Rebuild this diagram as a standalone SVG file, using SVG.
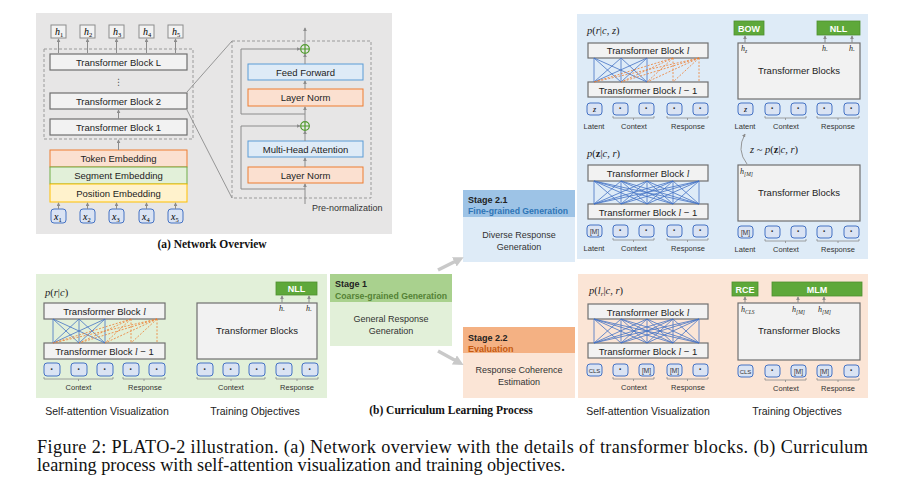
<svg xmlns="http://www.w3.org/2000/svg" width="899" height="485" viewBox="0 0 899 485">
<defs>
<style>
.sans{font-family:"Liberation Sans","DejaVu Sans",sans-serif;}
.serif{font-family:"Liberation Serif","DejaVu Serif",serif;}
.blk{fill:#f2f2f2;stroke:#6f6f6f;stroke-width:1.2;}
.tb{font-family:"Liberation Sans",sans-serif;font-size:9.5px;fill:#222;text-anchor:middle;}
.tok{fill:#dae3f3;stroke:#4472c4;stroke-width:1;}
.tokt{font-family:"Liberation Sans",sans-serif;font-size:10px;font-weight:bold;fill:#333;text-anchor:middle;}
.lab{font-family:"Liberation Sans",sans-serif;font-size:7.5px;fill:#333;text-anchor:middle;}
.brace{fill:none;stroke:#8c8c8c;stroke-width:0.8;}
.ar{stroke:#8c8c8c;stroke-width:1;fill:none;marker-end:url(#ah);}
.bl{stroke:#4472c4;stroke-width:0.8;}
.or{stroke:#ed7d31;stroke-width:0.8;stroke-dasharray:2,1.5;}
.gbox{fill:#5ea83a;stroke:#4f8f30;stroke-width:0.8;}
.gt{font-family:"Liberation Sans",sans-serif;font-size:9px;font-weight:bold;fill:#fff;text-anchor:middle;}
.mi{font-family:"Liberation Serif",serif;font-style:italic;}
.cap{font-family:"Liberation Serif","Times New Roman",serif;font-size:18.2px;fill:#111;}
.hb{fill:#f2f2f2;stroke:#8c8c8c;stroke-width:1;}
.sub{font-family:"Liberation Sans",sans-serif;font-size:10.5px;fill:#222;text-anchor:middle;}
</style>
<marker id="ah" viewBox="0 0 6 6" refX="5" refY="3" markerWidth="4" markerHeight="4" orient="auto"><path d="M0,0 L6,3 L0,6 z" fill="#8c8c8c"/></marker>
<marker id="ahg" viewBox="0 0 6 6" refX="3" refY="3" markerWidth="3" markerHeight="3" orient="auto"><path d="M0,0 L6,3 L0,6 z" fill="#c9c9c9"/></marker>
</defs>
<rect width="899" height="485" fill="#ffffff"/>

<!-- Panels -->
<rect id="panel-a" x="36" y="13" width="356" height="221" fill="#e7e6e6"/>
<rect id="panel-blue" x="577" y="14" width="291" height="245" fill="#deebf7"/>
<rect id="panel-green" x="36" y="274" width="291" height="124" fill="#e2f0d9"/>
<rect id="panel-orange" x="578" y="274" width="290" height="124" fill="#fbe5d6"/>

<!-- (a) Network overview -->
<g id="outputs">
<rect class="hb" x="51" y="25" width="15" height="13"/><rect class="hb" x="80" y="25" width="15" height="13"/><rect class="hb" x="109" y="25" width="15" height="13"/><rect class="hb" x="139" y="25" width="15" height="13"/><rect class="hb" x="168" y="25" width="15" height="13"/>
<text class="mi" font-size="10" x="55" y="35">h<tspan font-size="6.5" dy="2" font-style="normal">1</tspan></text>
<text class="mi" font-size="10" x="84" y="35">h<tspan font-size="6.5" dy="2" font-style="normal">2</tspan></text>
<text class="mi" font-size="10" x="113" y="35">h<tspan font-size="6.5" dy="2" font-style="normal">3</tspan></text>
<text class="mi" font-size="10" x="143" y="35">h<tspan font-size="6.5" dy="2" font-style="normal">4</tspan></text>
<text class="mi" font-size="10" x="172" y="35">h<tspan font-size="6.5" dy="2" font-style="normal">5</tspan></text>
</g>
<g id="stack">
<rect x="44" y="49" width="149" height="90" fill="none" stroke="#9a9a9a" stroke-width="1" stroke-dasharray="3,2"/>
<rect class="blk" x="50" y="54" width="137" height="16"/><text class="tb" x="118.5" y="65.5">Transformer Block L</text>
<text class="sans" font-size="9" fill="#555" text-anchor="middle" x="118.5" y="85">⋮</text>
<rect class="blk" x="50" y="93" width="137" height="16"/><text class="tb" x="118.5" y="104.5">Transformer Block 2</text>
<rect class="blk" x="50" y="119" width="137" height="16"/><text class="tb" x="118.5" y="130.5">Transformer Block 1</text>
</g>
<g id="embeddings">
<rect x="50" y="150" width="137" height="17" fill="#fbe0d0" stroke="#ed7d31" stroke-width="1"/><text class="tb" x="118.5" y="162">Token Embedding</text>
<rect x="50" y="167" width="137" height="17" fill="#e2f0d9" stroke="#70ad47" stroke-width="1"/><text class="tb" x="118.5" y="179">Segment Embedding</text>
<rect x="50" y="184" width="137" height="18" fill="#fff2cc" stroke="#ffc000" stroke-width="1"/><text class="tb" x="118.5" y="196.5">Position Embedding</text>
</g>
<g id="inputs">
<rect class="tok" x="51" y="209" width="15" height="14" rx="3"/><rect class="tok" x="80" y="209" width="15" height="14" rx="3"/><rect class="tok" x="109" y="209" width="15" height="14" rx="3"/><rect class="tok" x="139" y="209" width="15" height="14" rx="3"/><rect class="tok" x="168" y="209" width="15" height="14" rx="3"/>
<text class="mi" font-size="10" x="54" y="219.5">x<tspan font-size="6.5" dy="2" font-style="normal">1</tspan></text>
<text class="mi" font-size="10" x="83" y="219.5">x<tspan font-size="6.5" dy="2" font-style="normal">2</tspan></text>
<text class="mi" font-size="10" x="112" y="219.5">x<tspan font-size="6.5" dy="2" font-style="normal">3</tspan></text>
<text class="mi" font-size="10" x="142" y="219.5">x<tspan font-size="6.5" dy="2" font-style="normal">4</tspan></text>
<text class="mi" font-size="10" x="171" y="219.5">x<tspan font-size="6.5" dy="2" font-style="normal">5</tspan></text>
</g>
<g id="block-detail">
<rect x="232" y="41" width="139" height="157" fill="none" stroke="#9a9a9a" stroke-width="1" stroke-dasharray="3,2"/>
<rect x="248" y="64" width="115" height="16" fill="#deebf7" stroke="#5b9bd5" stroke-width="1"/><text class="tb" x="305.5" y="75.5">Feed Forward</text>
<rect x="248" y="89" width="115" height="17" fill="#fbe0d0" stroke="#ed7d31" stroke-width="1"/><text class="tb" x="305.5" y="101">Layer Norm</text>
<rect x="248" y="141" width="115" height="16" fill="#deebf7" stroke="#5b9bd5" stroke-width="1"/><text class="tb" x="305.5" y="152.5">Multi-Head Attention</text>
<rect x="248" y="167" width="115" height="16" fill="#fbe0d0" stroke="#ed7d31" stroke-width="1"/><text class="tb" x="305.5" y="178.5">Layer Norm</text>
<circle cx="305" cy="49" r="4.3" fill="none" stroke="#4e9a2a" stroke-width="1.2"/><path d="M300.7,49 H309.3 M305,44.7 V53.3" stroke="#4e9a2a" stroke-width="1.2"/>
<circle cx="305" cy="126" r="4.3" fill="none" stroke="#4e9a2a" stroke-width="1.2"/><path d="M300.7,126 H309.3 M305,121.7 V130.3" stroke="#4e9a2a" stroke-width="1.2"/>
<text class="sans" font-size="9" fill="#333" x="312" y="211">Pre-normalization</text>
</g>
<g id="connectors-a">
<line class="ar" x1="58.5" y1="53" x2="58.5" y2="39"/><line class="ar" x1="87.5" y1="53" x2="87.5" y2="39"/><line class="ar" x1="116.5" y1="53" x2="116.5" y2="39"/><line class="ar" x1="146.5" y1="53" x2="146.5" y2="39"/><line class="ar" x1="175.5" y1="53" x2="175.5" y2="39"/>
<line class="ar" x1="118.5" y1="119" x2="118.5" y2="110"/>
<line class="ar" x1="118.5" y1="150" x2="118.5" y2="140"/>
<line class="ar" x1="58.5" y1="209" x2="58.5" y2="203"/><line class="ar" x1="87.5" y1="209" x2="87.5" y2="203"/><line class="ar" x1="116.5" y1="209" x2="116.5" y2="203"/><line class="ar" x1="146.5" y1="209" x2="146.5" y2="203"/><line class="ar" x1="175.5" y1="209" x2="175.5" y2="203"/>
<line x1="187" y1="92" x2="232" y2="41" stroke="#8c8c8c" stroke-width="0.9"/>
<line x1="187" y1="110" x2="232" y2="198" stroke="#8c8c8c" stroke-width="0.9"/>
<line class="ar" x1="305" y1="204" x2="305" y2="184"/>
<line class="ar" x1="305" y1="167" x2="305" y2="158"/>
<line class="ar" x1="305" y1="141" x2="305" y2="131"/>
<line class="ar" x1="305" y1="121.5" x2="305" y2="107"/>
<line class="ar" x1="305" y1="89" x2="305" y2="81"/>
<line class="ar" x1="305" y1="64" x2="305" y2="54"/>
<line class="ar" x1="305" y1="44.5" x2="305" y2="28"/>
<path class="ar" d="M305,189 H241 V126 H300"/>
<path class="ar" d="M305,114 H241 V49 H300"/>
</g>
<text class="serif" font-size="11.5" font-weight="bold" text-anchor="middle" x="212" y="248" fill="#111">(a) Network Overview</text>

<!-- Stage boxes -->
<g id="stage21">
<rect x="463" y="190" width="112" height="27" fill="#9dc3e6"/>
<rect x="463" y="217" width="112" height="45" fill="#deebf7"/>
<text class="sans" font-size="9" font-weight="bold" fill="#222" x="468" y="203">Stage 2.1</text>
<text class="sans" font-size="9" font-weight="bold" fill="#2e75b6" x="468" y="214" textLength="100" lengthAdjust="spacingAndGlyphs">Fine-grained Generation</text>
<text class="sans" font-size="9" fill="#333" text-anchor="middle" x="519" y="238">Diverse Response</text>
<text class="sans" font-size="9" fill="#333" text-anchor="middle" x="519" y="250">Generation</text>
</g>
<g id="stage1">
<rect x="330" y="274" width="122" height="28" fill="#a9d18e"/>
<rect x="330" y="302" width="122" height="44" fill="#e2f0d9"/>
<text class="sans" font-size="9" font-weight="bold" fill="#222" x="335" y="287">Stage 1</text>
<text class="sans" font-size="9" font-weight="bold" fill="#548235" x="335" y="299" textLength="112" lengthAdjust="spacingAndGlyphs">Coarse-grained Generation</text>
<text class="sans" font-size="9" fill="#333" text-anchor="middle" x="391" y="322">General Response</text>
<text class="sans" font-size="9" fill="#333" text-anchor="middle" x="391" y="334">Generation</text>
</g>
<g id="stage22">
<rect x="463" y="327" width="112" height="26" fill="#f4b183"/>
<rect x="463" y="353" width="112" height="45" fill="#fbe5d6"/>
<text class="sans" font-size="9" font-weight="bold" fill="#222" x="468" y="341">Stage 2.2</text>
<text class="sans" font-size="9" font-weight="bold" fill="#c55a11" x="468" y="352">Evaluation</text>
<text class="sans" font-size="9" fill="#333" text-anchor="middle" x="519" y="373">Response Coherence</text>
<text class="sans" font-size="9" fill="#333" text-anchor="middle" x="519" y="385">Estimation</text>
</g>
<g id="connectors-stage">
<line x1="438" y1="270" x2="459" y2="259.5" stroke="#c9c9c9" stroke-width="3.5" marker-end="url(#ahg)"/>
<line x1="438" y1="351" x2="459" y2="362.5" stroke="#c9c9c9" stroke-width="3.5" marker-end="url(#ahg)"/>
</g>
<text class="serif" font-size="11.5" font-weight="bold" text-anchor="middle" x="451" y="414" fill="#111">(b) Curriculum Learning Process</text>

<!-- Top right: p(r|c,z) -->
<g id="tr-attn1">
<text class="serif" font-size="10.5" fill="#222" x="587" y="34"><tspan font-style="italic">p</tspan>(<tspan font-style="italic">r</tspan>|<tspan font-style="italic">c</tspan>, <tspan font-style="italic">z</tspan>)</text>
<rect class="blk" x="588" y="43" width="120" height="15"/><text class="tb" x="648" y="54">Transformer Block <tspan class="mi">l</tspan></text>
<rect class="blk" x="588" y="82" width="120" height="15"/><text class="tb" x="648" y="93.5">Transformer Block <tspan class="mi">l</tspan> − 1</text>
<g class="bl">
<line x1="594" y1="58" x2="594" y2="82"/><line x1="594" y1="58" x2="621" y2="82"/><line x1="594" y1="58" x2="647" y2="82"/>
<line x1="621" y1="58" x2="594" y2="82"/><line x1="621" y1="58" x2="621" y2="82"/><line x1="621" y1="58" x2="647" y2="82"/>
<line x1="647" y1="58" x2="594" y2="82"/><line x1="647" y1="58" x2="621" y2="82"/><line x1="647" y1="58" x2="647" y2="82"/>
</g>
<g class="or">
<line x1="673" y1="58" x2="594" y2="82"/><line x1="673" y1="58" x2="621" y2="82"/><line x1="673" y1="58" x2="647" y2="82"/><line x1="673" y1="58" x2="673" y2="82"/>
<line x1="699" y1="58" x2="594" y2="82"/><line x1="699" y1="58" x2="621" y2="82"/><line x1="699" y1="58" x2="647" y2="82"/><line x1="699" y1="58" x2="673" y2="82"/><line x1="699" y1="58" x2="699" y2="82"/>
</g>
<rect class="tok" x="587" y="103" width="15" height="12" rx="3"/><text class="mi" font-size="8" text-anchor="middle" x="594.5" y="112">z</text>
<rect class="tok" x="613" y="103" width="15" height="12" rx="3"/><text class="tokt" x="620.5" y="112">·</text>
<rect class="tok" x="639" y="103" width="15" height="12" rx="3"/><text class="tokt" x="646.5" y="112">·</text>
<rect class="tok" x="667" y="103" width="15" height="12" rx="3"/><text class="tokt" x="674.5" y="112">·</text>
<rect class="tok" x="693" y="103" width="15" height="12" rx="3"/><text class="tokt" x="700.5" y="112">·</text>
<path class="brace" d="M613,116 V118 H654 V116 M633.5,118 V120"/>
<path class="brace" d="M667,116 V118 H708 V116 M687.5,118 V120"/>
<text class="lab" x="594" y="129">Latent</text><text class="lab" x="634" y="129">Context</text><text class="lab" x="688" y="129">Response</text>
</g>

<!-- Top right: p(z|c,r) -->
<g id="tr-attn2">
<text class="serif" font-size="10.5" fill="#222" x="587" y="157"><tspan font-style="italic">p</tspan>(<tspan font-weight="bold">z</tspan>|<tspan font-style="italic">c</tspan>, <tspan font-style="italic">r</tspan>)</text>
<rect class="blk" x="588" y="165" width="120" height="16"/><text class="tb" x="648" y="176.5">Transformer Block <tspan class="mi">l</tspan></text>
<rect class="blk" x="588" y="204" width="120" height="15"/><text class="tb" x="648" y="215.5">Transformer Block <tspan class="mi">l</tspan> − 1</text>
<g class="bl">
<line x1="594" y1="181" x2="594" y2="204"/><line x1="594" y1="181" x2="621" y2="204"/><line x1="594" y1="181" x2="647" y2="204"/><line x1="594" y1="181" x2="673" y2="204"/><line x1="594" y1="181" x2="699" y2="204"/>
<line x1="621" y1="181" x2="594" y2="204"/><line x1="621" y1="181" x2="621" y2="204"/><line x1="621" y1="181" x2="647" y2="204"/><line x1="621" y1="181" x2="673" y2="204"/><line x1="621" y1="181" x2="699" y2="204"/>
<line x1="647" y1="181" x2="594" y2="204"/><line x1="647" y1="181" x2="621" y2="204"/><line x1="647" y1="181" x2="647" y2="204"/><line x1="647" y1="181" x2="673" y2="204"/><line x1="647" y1="181" x2="699" y2="204"/>
<line x1="673" y1="181" x2="594" y2="204"/><line x1="673" y1="181" x2="621" y2="204"/><line x1="673" y1="181" x2="647" y2="204"/><line x1="673" y1="181" x2="673" y2="204"/><line x1="673" y1="181" x2="699" y2="204"/>
<line x1="699" y1="181" x2="594" y2="204"/><line x1="699" y1="181" x2="621" y2="204"/><line x1="699" y1="181" x2="647" y2="204"/><line x1="699" y1="181" x2="673" y2="204"/><line x1="699" y1="181" x2="699" y2="204"/>
</g>
<rect class="tok" x="587" y="225" width="15" height="12" rx="3"/><text class="sans" font-size="6.5" fill="#333" text-anchor="middle" x="594.5" y="233.5">[M]</text>
<rect class="tok" x="613" y="225" width="15" height="12" rx="3"/><text class="tokt" x="620.5" y="234">·</text>
<rect class="tok" x="639" y="225" width="15" height="12" rx="3"/><text class="tokt" x="646.5" y="234">·</text>
<rect class="tok" x="667" y="225" width="15" height="12" rx="3"/><text class="tokt" x="674.5" y="234">·</text>
<rect class="tok" x="693" y="225" width="15" height="12" rx="3"/><text class="tokt" x="700.5" y="234">·</text>
<path class="brace" d="M613,238 V240 H654 V238 M633.5,240 V242"/>
<path class="brace" d="M667,238 V240 H708 V238 M687.5,240 V242"/>
<text class="lab" x="594" y="251">Latent</text><text class="lab" x="634" y="251">Context</text><text class="lab" x="688" y="251">Response</text>
</g>

<!-- Top right: training objectives -->
<g id="tr-obj1">
<rect class="gbox" x="734" y="21" width="30" height="14"/><text class="gt" x="749" y="31.5">BOW</text>
<rect class="gbox" x="817" y="21" width="43" height="14"/><text class="gt" x="838.5" y="31.5">NLL</text>
<rect class="blk" x="738" y="43" width="122" height="56"/>
<text class="mi" font-size="8" fill="#222" x="741" y="51">h<tspan font-size="5.5" dy="1.5">z</tspan></text>
<text class="mi" font-size="8" fill="#222" x="822" y="51">h.</text>
<text class="mi" font-size="8" fill="#222" x="849" y="51">h.</text>
<text class="tb" x="799" y="74">Transformer Blocks</text>
<line class="ar" x1="745" y1="43" x2="745" y2="36"/><line class="ar" x1="825" y1="43" x2="825" y2="36"/><line class="ar" x1="852" y1="43" x2="852" y2="36"/>
<rect class="tok" x="738" y="103" width="15" height="12" rx="3"/><text class="mi" font-size="8" text-anchor="middle" x="745.5" y="112">z</text>
<rect class="tok" x="765" y="103" width="15" height="12" rx="3"/><text class="tokt" x="772.5" y="112">·</text>
<rect class="tok" x="791" y="103" width="15" height="12" rx="3"/><text class="tokt" x="798.5" y="112">·</text>
<rect class="tok" x="817" y="103" width="15" height="12" rx="3"/><text class="tokt" x="824.5" y="112">·</text>
<rect class="tok" x="844" y="103" width="15" height="12" rx="3"/><text class="tokt" x="851.5" y="112">·</text>
<path class="brace" d="M765,116 V118 H806 V116 M785.5,118 V120"/>
<path class="brace" d="M817,116 V118 H859 V116 M838,118 V120"/>
<text class="lab" x="745" y="129">Latent</text><text class="lab" x="786" y="129">Context</text><text class="lab" x="838" y="129">Response</text>
</g>
<g id="sampling">
<path d="M747,164 Q736,150 745,134" fill="none" stroke="#8c8c8c" stroke-width="0.9" marker-end="url(#ah)"/>
<text class="serif" font-size="10.5" fill="#222" x="750" y="153"><tspan font-style="italic">z</tspan> ~ <tspan font-style="italic">p</tspan>(<tspan font-weight="bold">z</tspan>|<tspan font-style="italic">c</tspan>, <tspan font-style="italic">r</tspan>)</text>
</g>
<g id="tr-obj2">
<rect class="blk" x="738" y="165" width="122" height="56"/>
<text class="mi" font-size="8" fill="#222" x="740" y="174">h<tspan font-size="5.5" dy="1.5">[M]</tspan></text>
<text class="tb" x="799" y="196">Transformer Blocks</text>
<rect class="tok" x="738" y="226" width="15" height="12" rx="3"/><text class="sans" font-size="6.5" fill="#333" text-anchor="middle" x="745.5" y="234.5">[M]</text>
<rect class="tok" x="765" y="226" width="15" height="12" rx="3"/><text class="tokt" x="772.5" y="235">·</text>
<rect class="tok" x="791" y="226" width="15" height="12" rx="3"/><text class="tokt" x="798.5" y="235">·</text>
<rect class="tok" x="817" y="226" width="15" height="12" rx="3"/><text class="tokt" x="824.5" y="235">·</text>
<rect class="tok" x="844" y="226" width="15" height="12" rx="3"/><text class="tokt" x="851.5" y="235">·</text>
<path class="brace" d="M765,239 V241 H806 V239 M785.5,241 V243"/>
<path class="brace" d="M817,239 V241 H859 V239 M838,241 V243"/>
<text class="lab" x="745" y="252">Latent</text><text class="lab" x="786" y="252">Context</text><text class="lab" x="838" y="252">Response</text>
</g>

<!-- Bottom left: Stage 1 -->
<g id="bl-attn">
<text class="serif" font-size="10.5" fill="#222" x="45" y="296"><tspan font-style="italic">p</tspan>(<tspan font-style="italic">r</tspan>|<tspan font-style="italic">c</tspan>)</text>
<rect class="blk" x="44" y="303" width="121" height="16"/><text class="tb" x="104.5" y="314.5">Transformer Block <tspan class="mi">l</tspan></text>
<rect class="blk" x="44" y="343" width="121" height="16"/><text class="tb" x="104.5" y="354.5">Transformer Block <tspan class="mi">l</tspan> − 1</text>
<g class="bl">
<line x1="53" y1="319" x2="53" y2="343"/><line x1="53" y1="319" x2="79" y2="343"/><line x1="53" y1="319" x2="105" y2="343"/>
<line x1="79" y1="319" x2="53" y2="343"/><line x1="79" y1="319" x2="79" y2="343"/><line x1="79" y1="319" x2="105" y2="343"/>
<line x1="105" y1="319" x2="53" y2="343"/><line x1="105" y1="319" x2="79" y2="343"/><line x1="105" y1="319" x2="105" y2="343"/>
</g>
<g class="or">
<line x1="131" y1="319" x2="53" y2="343"/><line x1="131" y1="319" x2="79" y2="343"/><line x1="131" y1="319" x2="105" y2="343"/><line x1="131" y1="319" x2="131" y2="343"/>
<line x1="157" y1="319" x2="53" y2="343"/><line x1="157" y1="319" x2="79" y2="343"/><line x1="157" y1="319" x2="105" y2="343"/><line x1="157" y1="319" x2="131" y2="343"/><line x1="157" y1="319" x2="157" y2="343"/>
</g>
<rect class="tok" x="44" y="363" width="16" height="13" rx="3"/><text class="tokt" x="52" y="372.5">·</text>
<rect class="tok" x="71" y="363" width="16" height="13" rx="3"/><text class="tokt" x="79" y="372.5">·</text>
<rect class="tok" x="97" y="363" width="16" height="13" rx="3"/><text class="tokt" x="105" y="372.5">·</text>
<rect class="tok" x="123" y="363" width="16" height="13" rx="3"/><text class="tokt" x="131" y="372.5">·</text>
<rect class="tok" x="149" y="363" width="16" height="13" rx="3"/><text class="tokt" x="157" y="372.5">·</text>
<path class="brace" d="M44,377 V379 H113 V377 M78.5,379 V381"/>
<path class="brace" d="M123,377 V379 H165 V377 M144,379 V381"/>
<text class="lab" x="78.5" y="390">Context</text><text class="lab" x="145" y="390">Response</text>
</g>
<g id="bl-obj">
<rect class="gbox" x="276" y="282" width="41" height="13"/><text class="gt" x="296.5" y="292">NLL</text>
<rect class="blk" x="197" y="303" width="120" height="56"/>
<text class="mi" font-size="8" fill="#222" x="279" y="311">h.</text>
<text class="mi" font-size="8" fill="#222" x="306" y="311">h.</text>
<text class="tb" x="257" y="334">Transformer Blocks</text>
<line class="ar" x1="282" y1="303" x2="282" y2="296"/><line class="ar" x1="309" y1="303" x2="309" y2="296"/>
<rect class="tok" x="197" y="363" width="16" height="13" rx="3"/><text class="tokt" x="205" y="372.5">·</text>
<rect class="tok" x="223" y="363" width="16" height="13" rx="3"/><text class="tokt" x="231" y="372.5">·</text>
<rect class="tok" x="249" y="363" width="16" height="13" rx="3"/><text class="tokt" x="257" y="372.5">·</text>
<rect class="tok" x="276" y="363" width="16" height="13" rx="3"/><text class="tokt" x="284" y="372.5">·</text>
<rect class="tok" x="302" y="363" width="16" height="13" rx="3"/><text class="tokt" x="310" y="372.5">·</text>
<path class="brace" d="M197,377 V379 H265 V377 M231,379 V381"/>
<path class="brace" d="M276,377 V379 H318 V377 M297,379 V381"/>
<text class="lab" x="231" y="390">Context</text><text class="lab" x="297" y="390">Response</text>
</g>
<text class="sub" x="107" y="415">Self-attention Visualization</text>
<text class="sub" x="255" y="415">Training Objectives</text>

<!-- Bottom right: Stage 2.2 -->
<g id="br-attn">
<text class="serif" font-size="10.5" fill="#222" x="589" y="294"><tspan font-style="italic">p</tspan>(<tspan font-style="italic">l<tspan font-size="7" dy="2">r</tspan></tspan><tspan dy="-2">|</tspan><tspan font-style="italic">c</tspan>, <tspan font-style="italic">r</tspan>)</text>
<rect class="blk" x="588" y="304" width="120" height="15"/><text class="tb" x="648" y="315.5">Transformer Block <tspan class="mi">l</tspan></text>
<rect class="blk" x="588" y="343" width="120" height="15"/><text class="tb" x="648" y="354.5">Transformer Block <tspan class="mi">l</tspan> − 1</text>
<g class="bl">
<line x1="594" y1="319" x2="594" y2="343"/><line x1="594" y1="319" x2="621" y2="343"/><line x1="594" y1="319" x2="647" y2="343"/><line x1="594" y1="319" x2="673" y2="343"/><line x1="594" y1="319" x2="699" y2="343"/>
<line x1="621" y1="319" x2="594" y2="343"/><line x1="621" y1="319" x2="621" y2="343"/><line x1="621" y1="319" x2="647" y2="343"/><line x1="621" y1="319" x2="673" y2="343"/><line x1="621" y1="319" x2="699" y2="343"/>
<line x1="647" y1="319" x2="594" y2="343"/><line x1="647" y1="319" x2="621" y2="343"/><line x1="647" y1="319" x2="647" y2="343"/><line x1="647" y1="319" x2="673" y2="343"/><line x1="647" y1="319" x2="699" y2="343"/>
<line x1="673" y1="319" x2="594" y2="343"/><line x1="673" y1="319" x2="621" y2="343"/><line x1="673" y1="319" x2="647" y2="343"/><line x1="673" y1="319" x2="673" y2="343"/><line x1="673" y1="319" x2="699" y2="343"/>
<line x1="699" y1="319" x2="594" y2="343"/><line x1="699" y1="319" x2="621" y2="343"/><line x1="699" y1="319" x2="647" y2="343"/><line x1="699" y1="319" x2="673" y2="343"/><line x1="699" y1="319" x2="699" y2="343"/>
</g>
<rect class="tok" x="587" y="364" width="15" height="12" rx="3"/><text class="sans" font-size="6" fill="#333" text-anchor="middle" x="594.5" y="372.5">CLS</text>
<rect class="tok" x="613" y="364" width="15" height="12" rx="3"/><text class="tokt" x="620.5" y="373">·</text>
<rect class="tok" x="639" y="364" width="15" height="12" rx="3"/><text class="sans" font-size="6.5" fill="#333" text-anchor="middle" x="646.5" y="372.5">[M]</text>
<rect class="tok" x="667" y="364" width="15" height="12" rx="3"/><text class="sans" font-size="6.5" fill="#333" text-anchor="middle" x="674.5" y="372.5">[M]</text>
<rect class="tok" x="693" y="364" width="15" height="12" rx="3"/><text class="tokt" x="700.5" y="373">·</text>
<path class="brace" d="M613,377 V379 H654 V377 M633.5,379 V381"/>
<path class="brace" d="M667,377 V379 H708 V377 M687.5,379 V381"/>
<text class="lab" x="634" y="390">Context</text><text class="lab" x="688" y="390">Response</text>
</g>
<g id="br-obj">
<rect class="gbox" x="732" y="282" width="26" height="14"/><text class="gt" x="745" y="292.5">RCE</text>
<rect class="gbox" x="772" y="282" width="90" height="14"/><text class="gt" x="817" y="292.5">MLM</text>
<rect class="blk" x="738" y="303" width="122" height="57"/>
<text class="mi" font-size="8" fill="#222" x="741" y="312">h<tspan font-size="5.5" dy="1.5">CLS</tspan></text>
<text class="mi" font-size="8" fill="#222" x="792" y="312">h<tspan font-size="5.5" dy="1.5">[M]</tspan></text>
<text class="mi" font-size="8" fill="#222" x="818" y="312">h<tspan font-size="5.5" dy="1.5">[M]</tspan></text>
<text class="tb" x="799" y="334">Transformer Blocks</text>
<line class="ar" x1="745" y1="303" x2="745" y2="297"/><line class="ar" x1="798" y1="303" x2="798" y2="297"/><line class="ar" x1="824" y1="303" x2="824" y2="297"/>
<rect class="tok" x="738" y="365" width="15" height="12" rx="3"/><text class="sans" font-size="6" fill="#333" text-anchor="middle" x="745.5" y="373.5">CLS</text>
<rect class="tok" x="765" y="365" width="15" height="12" rx="3"/><text class="tokt" x="772.5" y="374">·</text>
<rect class="tok" x="791" y="365" width="15" height="12" rx="3"/><text class="sans" font-size="6.5" fill="#333" text-anchor="middle" x="798.5" y="373.5">[M]</text>
<rect class="tok" x="817" y="365" width="15" height="12" rx="3"/><text class="sans" font-size="6.5" fill="#333" text-anchor="middle" x="824.5" y="373.5">[M]</text>
<rect class="tok" x="844" y="365" width="15" height="12" rx="3"/><text class="tokt" x="851.5" y="374">·</text>
<path class="brace" d="M765,378 V380 H806 V378 M785.5,380 V382"/>
<path class="brace" d="M817,378 V380 H859 V378 M838,380 V382"/>
<text class="lab" x="786" y="391">Context</text><text class="lab" x="838" y="391">Response</text>
</g>
<text class="sub" x="648" y="415">Self-attention Visualization</text>
<text class="sub" x="797" y="415">Training Objectives</text>

<!-- Caption -->
<text class="cap" x="37" y="453" textLength="831" lengthAdjust="spacing">Figure 2:  PLATO-2 illustration.  (a) Network overview with the details of transformer blocks.  (b) Curriculum</text>
<text class="cap" x="37" y="471">learning process with self-attention visualization and training objectives.</text>
</svg>
